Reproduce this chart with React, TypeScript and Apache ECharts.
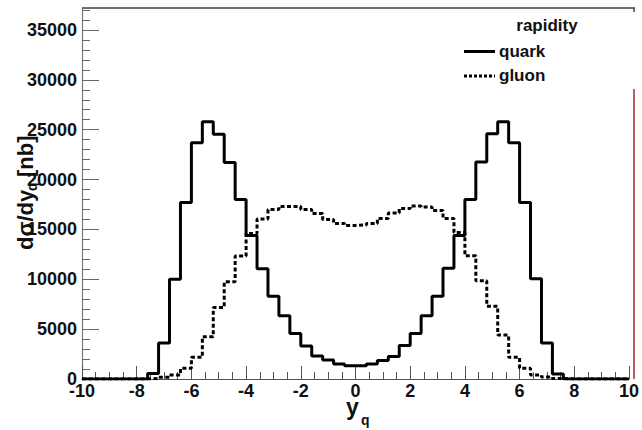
import React, { useEffect, useRef } from "react";
import * as echarts from "echarts";

// Histogram binning (50 bins of width 0.4 from -10 to 10)
const BIN_START = -10;
const BIN_WIDTH = 0.4;

// d sigma / dy_q [nb] per bin — quark (solid)
const quarkValues = [
  0, 0, 0, 0, 0, 0, 550, 3600, 10000, 17700,
  23700, 25800, 24550, 21700, 18000, 14400, 11050, 8300, 6350, 4550,
  3300, 2300, 1900, 1500, 1330, 1330, 1500, 1850, 2250, 3350,
  4550, 6350, 8300, 11100, 14400, 18000, 21750, 24600, 25800, 23700,
  17700, 10050, 3600, 500, 0, 0, 0, 0, 0, 0,
];

// gluon (dotted)
const gluonValues = [
  0, 0, 0, 0, 0, 0, 60, 180, 400, 1070,
  2170, 4240, 7180, 9750, 12330, 14600, 16050, 17000, 17300, 17300,
  17000, 16600, 16000, 15600, 15400, 15450, 15600, 16100, 16650, 17100,
  17350, 17250, 16900, 16100, 14700, 12350, 9850, 7300, 4400, 2170,
  1070, 400, 200, 60, 0, 0, 0, 0, 0, 0,
];

const X_MIN = -10;
const X_MAX = 10;
const X_MAJOR = 2;
const Y_MIN = 0;
const Y_MAX = 37200;
const Y_MAJOR = 5000;
const Y_MINOR = 1000;

const legendTitle = "rapidity";
const seriesNames = ["quark", "gluon"];

const FONT = "'Liberation Sans', Arial, Helvetica, sans-serif";

function toSteps(vals: number[]): number[][] {
  const pts = vals.map((v, i) => [+(BIN_START + i * BIN_WIDTH).toFixed(4), v]);
  pts.push([+(BIN_START + vals.length * BIN_WIDTH).toFixed(4), vals[vals.length - 1]]);
  return pts;
}

// text helper: place by baseline (approximate ascent 0.82em)
function txt(text: string, x: number, baseline: number, size: number, align = "left") {
  return {
    type: "text",
    x,
    y: baseline - Math.round(size * 0.82),
    style: {
      text,
      font: `bold ${size}px ${FONT}`,
      fill: "#111",
      align,
      verticalAlign: "top",
    },
    silent: true,
  };
}

export default function App() {
  const ref = useRef<HTMLDivElement>(null);

  useEffect(() => {
    if (!ref.current) return;
    const chart = echarts.init(ref.current, undefined, { renderer: "svg" });

    const GL = 82, GT = 8, GW = 553, GH = 371;
    const right = GL + GW;
    const bottom = GT + GH;

    const labelStyle = {
      color: "#111",
      fontFamily: FONT,
      fontWeight: "bold" as const,
      fontSize: 18,
    };

    const option: any = {
      animation: false,
      backgroundColor: "#fff",
      grid: { left: GL, top: GT, width: GW, height: GH, containLabel: false },
      xAxis: [
        {
          type: "value",
          min: X_MIN,
          max: X_MAX,
          interval: X_MAJOR,
          position: "bottom",
          axisLine: { show: true, onZero: false, lineStyle: { color: "#8b3a3a", width: 1.2 } },
          axisTick: { show: true, inside: true, length: 13, lineStyle: { color: "#555", width: 1 } },
          minorTick: { show: true, splitNumber: 4, length: 7, lineStyle: { color: "#555", width: 1 } },
          axisLabel: { ...labelStyle, margin: 3, formatter: (v: number) => String(v) },
          splitLine: { show: false },
          minorSplitLine: { show: false },
        },
      ],
      yAxis: [
        {
          type: "value",
          min: Y_MIN,
          max: Y_MAX,
          interval: Y_MAJOR,
          position: "left",
          axisLine: { show: true, onZero: false, lineStyle: { color: "#777", width: 1.2 } },
          axisTick: { show: true, inside: true, length: 17, lineStyle: { color: "#666", width: 1 } },
          axisLabel: { ...labelStyle, margin: 5, showMaxLabel: false, formatter: (v: number) => String(v) },
          splitLine: { show: false },
        },
        {
          type: "value",
          min: Y_MIN,
          max: Y_MAX,
          interval: Y_MINOR,
          position: "left",
          offset: 0,
          axisLine: { show: false, onZero: false },
          axisTick: { show: true, inside: true, length: 8, lineStyle: { color: "#666", width: 1 } },
          axisLabel: { show: false },
          splitLine: { show: false },
        },
      ],
      series: [
        {
          name: seriesNames[1],
          type: "line",
          step: "end",
          symbol: "none",
          data: toSteps(gluonValues),
          lineStyle: { color: "#000", width: 3, type: [4, 2.5] },
          z: 2,
        },
        {
          name: seriesNames[0],
          type: "line",
          step: "end",
          symbol: "none",
          data: toSteps(quarkValues),
          lineStyle: { color: "#000", width: 3, type: "solid" },
          z: 3,
        },
      ],
      graphic: [
        // frame top
        {
          type: "line",
          shape: { x1: GL, y1: GT, x2: right, y2: GT },
          style: { stroke: "#4d3b3b", lineWidth: 1.5 },
          silent: true,
        },
        // right frame (partial, red)
        {
          type: "line",
          shape: { x1: right - 1, y1: 89, x2: right - 1, y2: bottom },
          style: { stroke: "#a52a2a", lineWidth: 1.5 },
          silent: true,
        },
        {
          type: "line",
          shape: { x1: right - 1, y1: GT, x2: right - 1, y2: GT + 4 },
          style: { stroke: "#4d3b3b", lineWidth: 1.5 },
          silent: true,
        },
        // legend
        txt(legendTitle, 547, 31, 17, "center"),
        {
          type: "line",
          shape: { x1: 464, y1: 51.5, x2: 495, y2: 51.5 },
          style: { stroke: "#000", lineWidth: 3 },
          silent: true,
        },
        txt(seriesNames[0], 499, 57, 17),
        {
          type: "line",
          shape: { x1: 464, y1: 76, x2: 495, y2: 76 },
          style: { stroke: "#000", lineWidth: 3, lineDash: [3, 2] },
          silent: true,
        },
        txt(seriesNames[1], 499, 81, 17),
        // x axis title y_q
        txt("y", 346, 414, 23),
        txt("q", 361, 424, 14),
        // y axis title dσ/dy_q [nb], rotated
        {
          type: "group",
          x: 32,
          y: 250,
          rotation: Math.PI / 2,
          children: [
            txt("dσ/dy", 0, 0, 22),
            txt("q", 59, 4, 14),
            txt("[nb]", 73, 0, 22),
          ],
        },
      ],
    };

    chart.setOption(option);
    return () => chart.dispose();
  }, []);

  return (
    <div
      ref={ref}
      style={{ position: "fixed", left: 0, top: 0, width: 642, height: 430, background: "#fff" }}
    />
  );
}
